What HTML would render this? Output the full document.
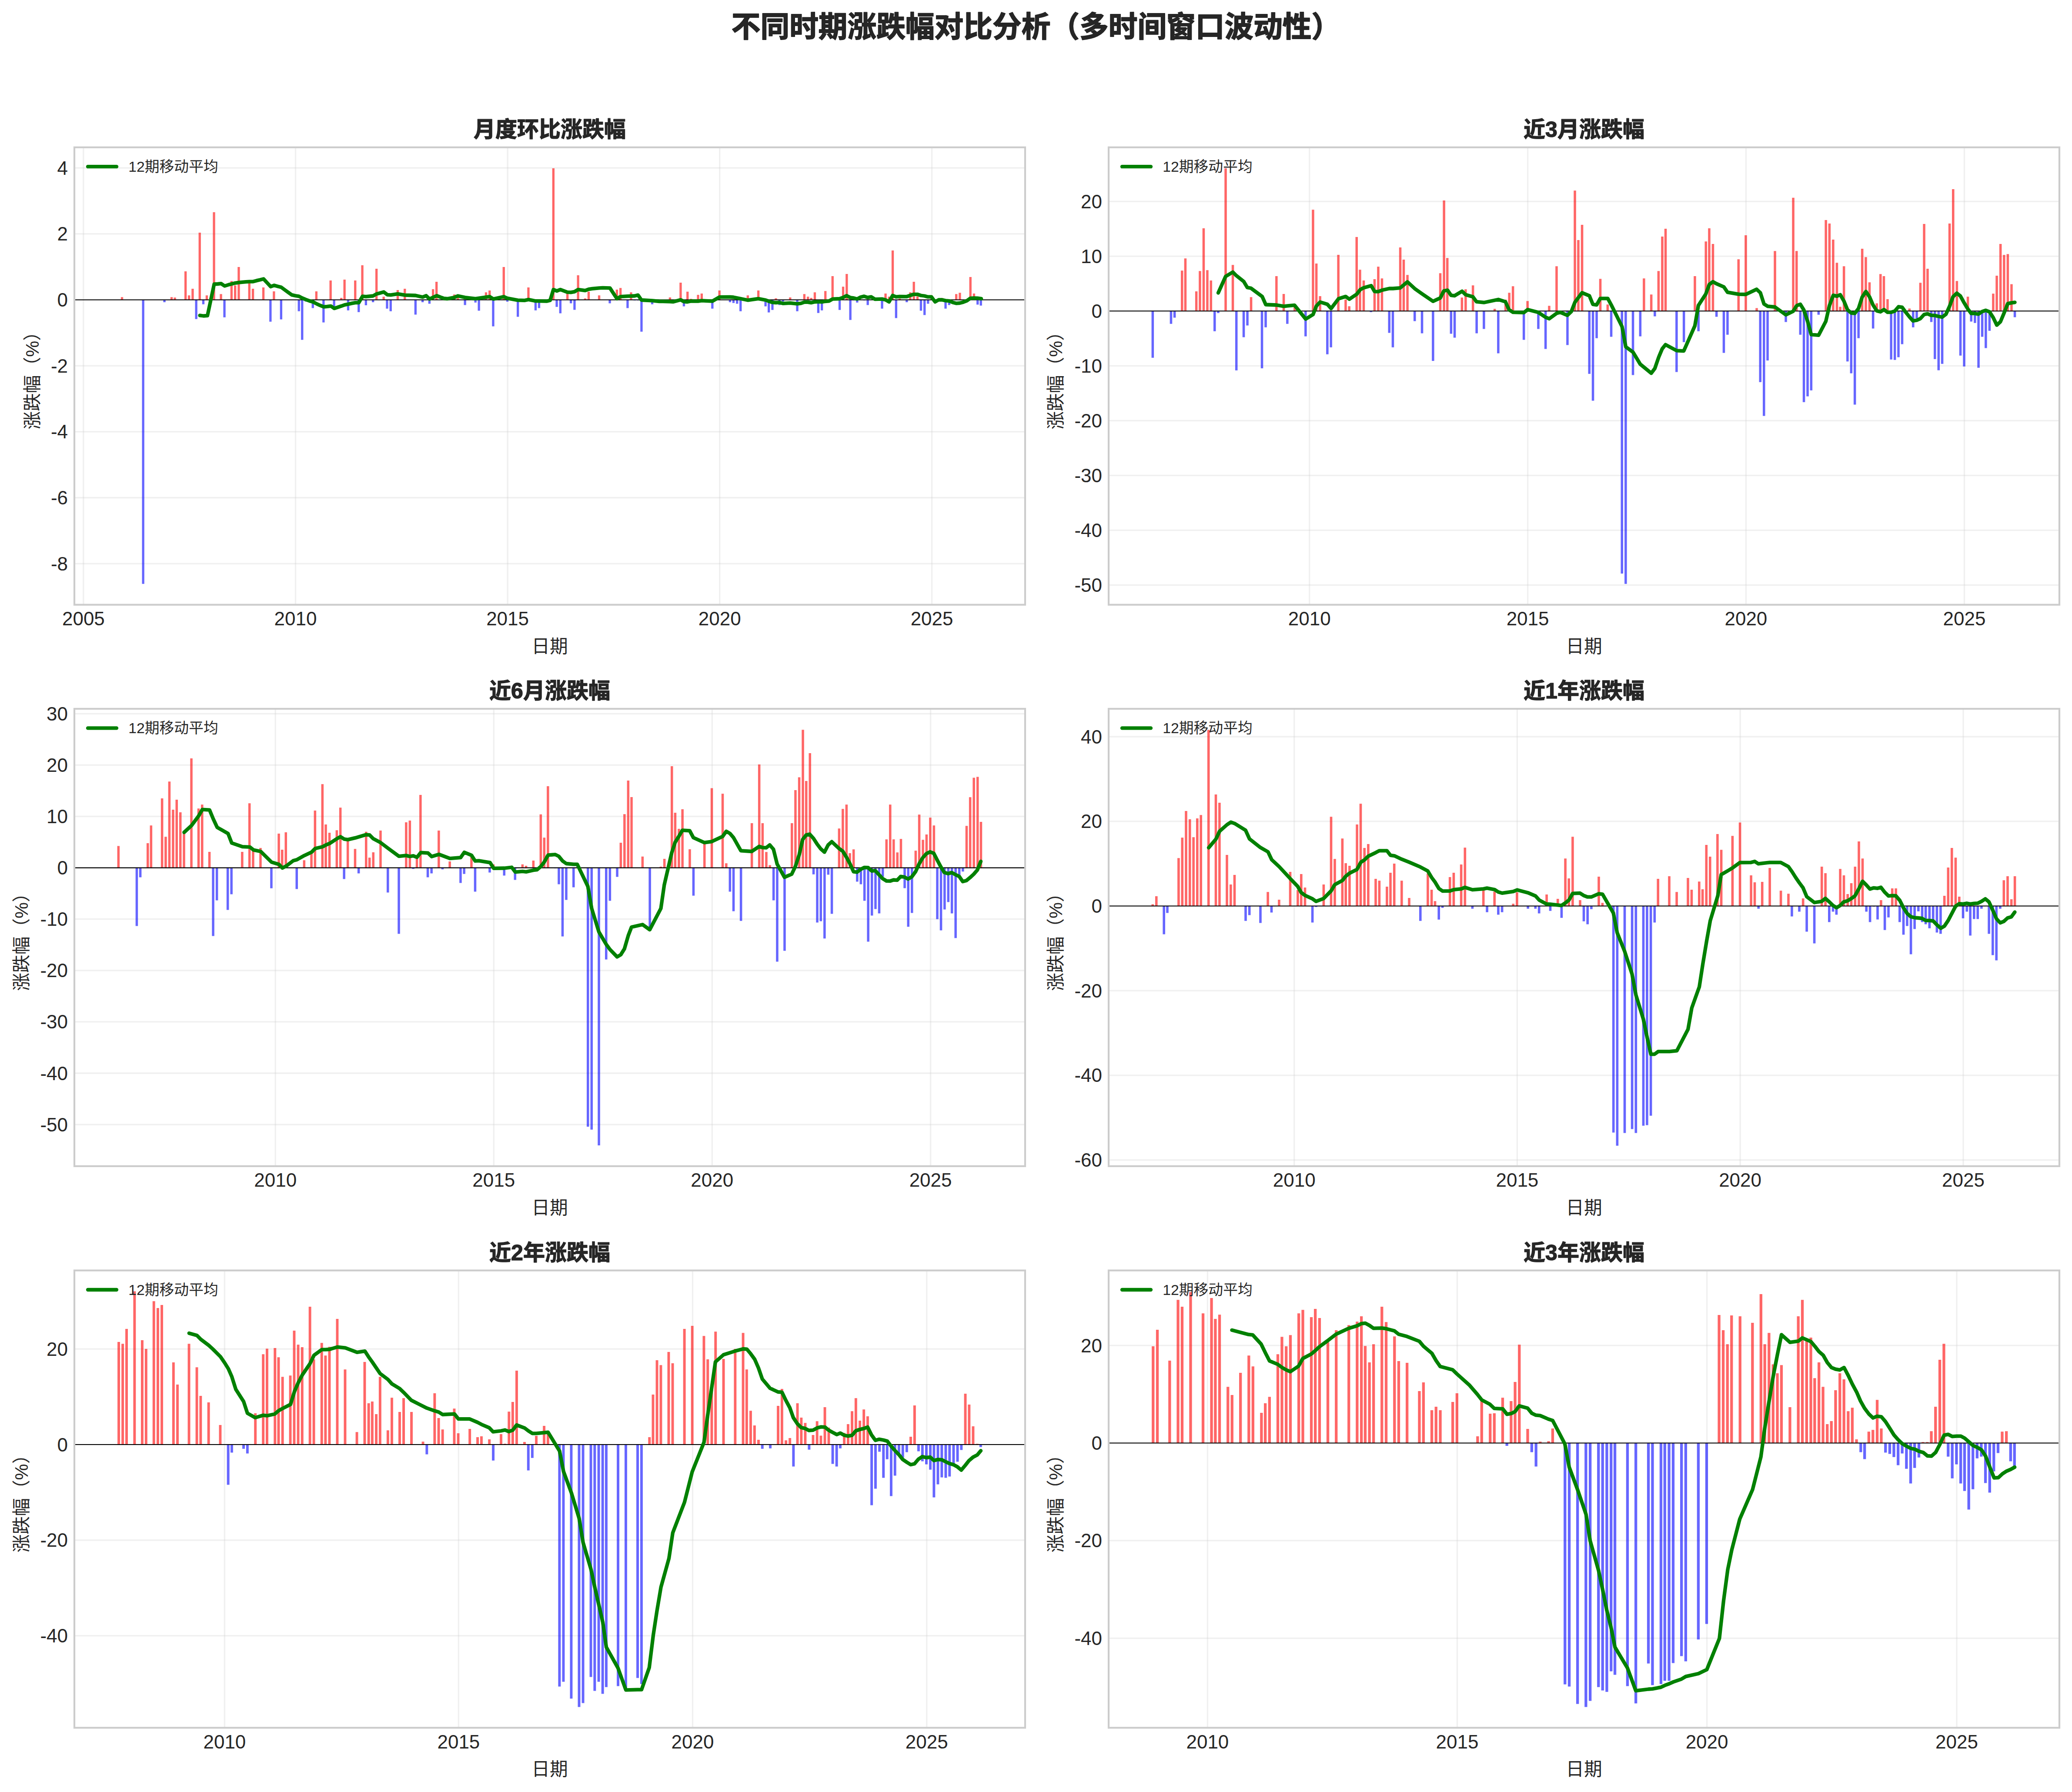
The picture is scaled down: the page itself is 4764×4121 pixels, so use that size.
<!DOCTYPE html>
<html lang="zh-CN">
<head>
<meta charset="utf-8">
<title>不同时期涨跌幅对比分析</title>
<style>
html,body{margin:0;padding:0;background:#fff}
body{width:4764px;height:4121px}
svg{display:block}
svg text{font-family:"Liberation Sans", "Noto Sans CJK SC", sans-serif;fill:#262626}
</style>
</head>
<body>

<svg width="4764" height="4121" viewBox="0 0 4764 4121" font-size="41.7">
<rect width="4764" height="4121" fill="#fff"/>
<text x="2382" y="85" text-anchor="middle" font-size="66.7" font-weight="bold" stroke="#262626" stroke-width="1.8" stroke-linejoin="round">不同时期涨跌幅对比分析（多时间窗口波动性）</text>
<g>
<path d="M191.9 338.8V1390.7M679.5 338.8V1390.7M1167.1 338.8V1390.7M1654.7 338.8V1390.7M2142.6 338.8V1390.7" stroke="#cccccc" stroke-opacity="0.3" stroke-width="3.3" fill="none"/>
<path d="M171 386.1H2357M171 537.8H2357M171 689.5H2357M171 841.2H2357M171 992.9H2357M171 1144.5H2357M171 1296.2H2357" stroke="#cccccc" stroke-opacity="0.3" stroke-width="3.3" fill="none"/>
<path d="M277.9 689.5h5.3v-6.3h-5.3zM391.9 689.5h5.3v-6.3h-5.3zM399.4 689.5h5.3v-5.2h-5.3zM424 689.5h5.3v-65.4h-5.3zM432 689.5h5.3v-10.3h-5.3zM440.3 689.5h5.3v-25.4h-5.3zM456.6 689.5h5.3v-154.4h-5.3zM472.8 689.5h5.3v-10.3h-5.3zM489.4 689.5h5.3v-201.4h-5.3zM505.4 689.5h5.3v-13.3h-5.3zM529.7 689.5h5.3v-43.3h-5.3zM538 689.5h5.3v-33.3h-5.3zM546.3 689.5h5.3v-75.4h-5.3zM570.6 689.5h5.3v-39.8h-5.3zM578.9 689.5h5.3v-25.4h-5.3zM602.9 689.5h5.3v-28.4h-5.3zM627.2 689.5h5.3v-19.5h-5.3zM724.7 689.5h5.3v-19.5h-5.3zM757.5 689.5h5.3v-44.6h-5.3zM782.1 689.5h5.3v-4.4h-5.3zM789.5 689.5h5.3v-46.5h-5.3zM814.1 689.5h5.3v-44.6h-5.3zM830.4 689.5h5.3v-79.5h-5.3zM863 689.5h5.3v-71.4h-5.3zM879.5 689.5h5.3v-7.3h-5.3zM911.8 689.5h5.3v-22.5h-5.3zM928.1 689.5h5.3v-25.4h-5.3zM993 689.5h5.3v-24.4h-5.3zM1001 689.5h5.3v-41.4h-5.3zM1041.9 689.5h5.3v-12.2h-5.3zM1050.2 689.5h5.3v-4.6h-5.3zM1114.8 689.5h5.3v-17.3h-5.3zM1123.1 689.5h5.3v-21.4h-5.3zM1155.6 689.5h5.3v-75.4h-5.3zM1212.3 689.5h5.3v-28.4h-5.3zM1269.7 689.5h5.3v-302.6h-5.3zM1302 689.5h5.3v-16.3h-5.3zM1326.5 689.5h5.3v-56.5h-5.3zM1342.8 689.5h5.3v-3.3h-5.3zM1350.8 689.5h5.3v-18.7h-5.3zM1374.9 689.5h5.3v-10.3h-5.3zM1415.7 689.5h5.3v-23.6h-5.3zM1424 689.5h5.3v-27.3h-5.3zM1448.3 689.5h5.3v-17.3h-5.3zM1537.8 689.5h5.3v-5.4h-5.3zM1562.3 689.5h5.3v-39.5h-5.3zM1578.1 689.5h5.3v-18.7h-5.3zM1586.1 689.5h5.3v-2.2h-5.3zM1602.4 689.5h5.3v-11.4h-5.3zM1610.7 689.5h5.3v-14.4h-5.3zM1651.5 689.5h5.3v-21.4h-5.3zM1716.7 689.5h5.3v-10.3h-5.3zM1741 689.5h5.3v-21.4h-5.3zM1781.3 689.5h5.3v-3.6h-5.3zM1814.1 689.5h5.3v-5.4h-5.3zM1846.7 689.5h5.3v-13.3h-5.3zM1855 689.5h5.3v-7.3h-5.3zM1862.5 689.5h5.3v-4.4h-5.3zM1870.8 689.5h5.3v-17.3h-5.3zM1895.1 689.5h5.3v-20.3h-5.3zM1911.6 689.5h5.3v-54.4h-5.3zM1935.9 689.5h5.3v-30.3h-5.3zM1944.2 689.5h5.3v-59.5h-5.3zM2009.1 689.5h5.3v-4.9h-5.3zM2033.4 689.5h5.3v-14.4h-5.3zM2041.7 689.5h5.3v-7.3h-5.3zM2049.9 689.5h5.3v-113.6h-5.3zM2066 689.5h5.3v-2.7h-5.3zM2090.3 689.5h5.3v-17.3h-5.3zM2098.5 689.5h5.3v-41.4h-5.3zM2106.8 689.5h5.3v-8.1h-5.3zM2139.4 689.5h5.3v-10h-5.3zM2163.4 689.5h5.3v-4.1h-5.3zM2196 689.5h5.3v-13.3h-5.3zM2204.3 689.5h5.3v-16.3h-5.3zM2228.6 689.5h5.3v-52.5h-5.3zM2236.8 689.5h5.3v-14.4h-5.3z" fill="#ff0000" fill-opacity="0.6"/>
<path d="M326.5 689.5h5.3v653.3h-5.3zM375.4 689.5h5.3v5.4h-5.3zM448.5 689.5h5.3v44.3h-5.3zM464.8 689.5h5.3v10.2h-5.3zM513.4 689.5h5.3v40.2h-5.3zM619.2 689.5h5.3v50.2h-5.3zM643.7 689.5h5.3v45.1h-5.3zM684.6 689.5h5.3v26.2h-5.3zM692.1 689.5h5.3v92.1h-5.3zM700.4 689.5h5.3v4h-5.3zM716.6 689.5h5.3v19.1h-5.3zM741.2 689.5h5.3v52.1h-5.3zM765.5 689.5h5.3v14.8h-5.3zM797.8 689.5h5.3v24.3h-5.3zM822.1 689.5h5.3v28.3h-5.3zM838.7 689.5h5.3v12.4h-5.3zM855 689.5h5.3v5.4h-5.3zM887.3 689.5h5.3v20.2h-5.3zM895.6 689.5h5.3v26.2h-5.3zM952.7 689.5h5.3v34h-5.3zM969 689.5h5.3v5.4h-5.3zM984.7 689.5h5.3v9.1h-5.3zM1066.5 689.5h5.3v12.1h-5.3zM1090.5 689.5h5.3v6.2h-5.3zM1098.5 689.5h5.3v25.1h-5.3zM1131.3 689.5h5.3v61h-5.3zM1163.9 689.5h5.3v4.3h-5.3zM1188 689.5h5.3v39.1h-5.3zM1228.8 689.5h5.3v24.3h-5.3zM1236.8 689.5h5.3v19.1h-5.3zM1277.4 689.5h5.3v16.2h-5.3zM1285.7 689.5h5.3v31h-5.3zM1310 689.5h5.3v8.1h-5.3zM1318.3 689.5h5.3v22.9h-5.3zM1399.4 689.5h5.3v8.1h-5.3zM1440.3 689.5h5.3v19.1h-5.3zM1456.6 689.5h5.3v1.3h-5.3zM1464.9 689.5h5.3v1.3h-5.3zM1472.3 689.5h5.3v73.2h-5.3zM1496.9 689.5h5.3v10.2h-5.3zM1569.8 689.5h5.3v15.1h-5.3zM1635.2 689.5h5.3v20.2h-5.3zM1675.8 689.5h5.3v5.4h-5.3zM1683.8 689.5h5.3v7.3h-5.3zM1692.1 689.5h5.3v9.1h-5.3zM1700.1 689.5h5.3v26.2h-5.3zM1757.5 689.5h5.3v15.1h-5.3zM1765 689.5h5.3v29.1h-5.3zM1773.3 689.5h5.3v23.2h-5.3zM1789.6 689.5h5.3v12.1h-5.3zM1797.6 689.5h5.3v4h-5.3zM1830.4 689.5h5.3v26.2h-5.3zM1878.8 689.5h5.3v30.2h-5.3zM1887 689.5h5.3v24.3h-5.3zM1927.9 689.5h5.3v23.2h-5.3zM1952.5 689.5h5.3v46.2h-5.3zM1959.9 689.5h5.3v1.3h-5.3zM1968.2 689.5h5.3v6.2h-5.3zM1984.5 689.5h5.3v1.3h-5.3zM1992.5 689.5h5.3v12.1h-5.3zM2025.4 689.5h5.3v20.2h-5.3zM2057.7 689.5h5.3v42.1h-5.3zM2082.2 689.5h5.3v5.4h-5.3zM2114.8 689.5h5.3v25.1h-5.3zM2123.1 689.5h5.3v35.1h-5.3zM2131.1 689.5h5.3v9.1h-5.3zM2171.4 689.5h5.3v20.2h-5.3zM2179.7 689.5h5.3v12.1h-5.3zM2245.1 689.5h5.3v11h-5.3zM2252.6 689.5h5.3v13.2h-5.3z" fill="#0000ff" fill-opacity="0.6"/>
<path d="M171 689.5H2357" stroke="#000" stroke-width="2.1"/>
<path d="M459.5 725.4L467.8 726.5L477 725.9L492.4 653.5L500.5 653L508.4 652.2L516.5 657.6L524.6 655.1L532.4 653L541.1 650.8L549.5 649.7L557.3 648.9L565.4 648.1L573.5 647.6L581.9 647.6L589.7 645.4L597.8 643.5L605.9 641.4L614.1 650.3L622.4 659.2L630.5 656.2L638.4 658.4L646.5 660.5L654.6 666.5L662.7 672.4L670.8 678.1L678.9 680L687.3 681.4L694.9 685.4L703.2 688.9L711.4 691.9L719.5 694.3L727.6 698.4L735.7 702.2L744.3 705.7L752.4 704.9L760.5 703.8L768.6 709.2L776.8 706.5L784.9 703.8L792.4 701.1L800.5 699.5L808.6 697.6L816.8 696.2L824.9 696.2L833.5 681.4L841.4 682.2L857.8 680.5L865.9 675.9L882.4 671.4L890.5 677.8L898.4 678.4L914.3 675.9L930.8 678.6L955.4 679.5L971.9 683.2L979.7 680L987.6 687.6L1004.1 680L1020.3 686.2L1028.4 687L1044.3 684.1L1052.7 680.5L1069.5 684.1L1093.2 686.8L1125.9 682.2L1134.3 687.6L1158.4 682.2L1166.5 685.9L1190.5 690.3L1206.8 690.8L1215.1 688.9L1231.4 692.2L1256.8 692.7L1264.9 690.8L1272.4 665.9L1280.3 669.2L1288.4 665.9L1304.3 671.9L1312.4 672.4L1320.8 670.8L1329.2 665.9L1345.4 668.1L1353.5 665.1L1361.6 663.8L1377.6 662.4L1385.9 661.9L1402.4 662.4L1418.4 686.8L1426.5 682.2L1443 681.1L1459.2 680.5L1467 678.6L1474.9 690L1499.5 691.4L1515.7 693L1540.3 693.5L1548.1 694.1L1564.9 689.5L1572.4 693.5L1580.3 694.3L1588.4 692.4L1604.9 692.7L1613.2 691.4L1637.8 692.7L1654.3 683.2L1678.4 683L1686.2 683.5L1702.4 686.8L1719.2 690.3L1743.5 686.8L1760.3 690L1767.3 692.7L1775.7 695.4L1783.8 696.2L1792.2 695.7L1800 697.8L1816.5 696.8L1833 698.6L1841.4 697.6L1849.5 694.9L1857.3 694.9L1864.9 696.2L1873.2 694.3L1881.4 693.8L1889.5 694.3L1897.3 693L1905.9 692.4L1914.3 687.6L1930.5 687L1938.4 684.1L1946.5 680L1954.9 684.3L1963 685.4L1970.5 687.6L1978.9 683.2L1986.8 681.4L1994.9 684.1L2003.2 682.7L2011.6 688.1L2027.8 687.6L2035.9 689.5L2044.1 694.1L2052.4 679.5L2060.3 682.7L2068.4 681.9L2084.3 682.2L2092.4 679.5L2100.8 676.8L2109.2 676.8L2117.3 679.5L2125.4 680.5L2133.5 682.7L2141.6 682.7L2150 694.1L2158.1 689.5L2165.9 689.5L2174.1 691.4L2182.4 692.2L2190.5 695.4L2198.4 697.6L2206.5 697L2214.6 694.9L2223 691.6L2231.1 685.9L2239.2 685.4L2247.3 685.7L2256.2 686.8" stroke="#008000" stroke-width="8.3" fill="none" stroke-linejoin="round" stroke-linecap="round"/>
<rect x="171" y="338.8" width="2186" height="1051.9" fill="none" stroke="#cccccc" stroke-width="4.2"/>
<path d="M202 383.2h66" stroke="#008000" stroke-width="8.3" stroke-linecap="round"/>
<text x="295.2" y="395.2" font-size="33.8">12期移动平均</text>
<text x="191.9" y="1438.2" text-anchor="middle" font-size="44">2005</text>
<text x="679.5" y="1438.2" text-anchor="middle" font-size="44">2010</text>
<text x="1167.1" y="1438.2" text-anchor="middle" font-size="44">2015</text>
<text x="1654.7" y="1438.2" text-anchor="middle" font-size="44">2020</text>
<text x="2142.6" y="1438.2" text-anchor="middle" font-size="44">2025</text>
<text x="156" y="401.6" text-anchor="end" font-size="44">4</text>
<text x="156" y="553.3" text-anchor="end" font-size="44">2</text>
<text x="156" y="705" text-anchor="end" font-size="44">0</text>
<text x="156" y="856.7" text-anchor="end" font-size="44">-2</text>
<text x="156" y="1008.4" text-anchor="end" font-size="44">-4</text>
<text x="156" y="1160" text-anchor="end" font-size="44">-6</text>
<text x="156" y="1311.7" text-anchor="end" font-size="44">-8</text>
<text x="1264" y="314.8" text-anchor="middle" font-size="50" font-weight="bold" stroke="#262626" stroke-width="1.4" stroke-linejoin="round">月度环比涨跌幅</text>
<text x="1264" y="1500.7" text-anchor="middle">日期</text>
<text transform="translate(89 864.8) rotate(-90)" text-anchor="middle">涨跌幅（%）</text>
</g>
<g>
<path d="M3010.8 338.8V1390.7M3512.6 338.8V1390.7M4014.4 338.8V1390.7M4516.5 338.8V1390.7" stroke="#cccccc" stroke-opacity="0.3" stroke-width="3.3" fill="none"/>
<path d="M2549 463.3H4735M2549 589.3H4735M2549 715.3H4735M2549 841.3H4735M2549 967.3H4735M2549 1093.3H4735M2549 1219.3H4735M2549 1345.3H4735" stroke="#cccccc" stroke-opacity="0.3" stroke-width="3.3" fill="none"/>
<path d="M2715 715.3h5.5v-93h-5.5zM2722.7 715.3h5.5v-121h-5.5zM2747.9 715.3h5.5v-45.2h-5.5zM2756.2 715.3h5.5v-92h-5.5zM2764.7 715.3h5.5v-190.2h-5.5zM2773.2 715.3h5.5v-94h-5.5zM2781.5 715.3h5.5v-70.2h-5.5zM2815.3 715.3h5.5v-328.3h-5.5zM2831.8 715.3h5.5v-106.1h-5.5zM2873.8 715.3h5.5v-32.1h-5.5zM2932.1 715.3h5.5v-80.2h-5.5zM2948.8 715.3h5.5v-39.4h-5.5zM2974.1 715.3h5.5v-9.3h-5.5zM3016.2 715.3h5.5v-233.1h-5.5zM3023.9 715.3h5.5v-109.3h-5.5zM3032.4 715.3h5.5v-34.2h-5.5zM3074.4 715.3h5.5v-129.3h-5.5zM3091.2 715.3h5.5v-26.6h-5.5zM3099.4 715.3h5.5v-11h-5.5zM3116.5 715.3h5.5v-170.2h-5.5zM3124.2 715.3h5.5v-95.1h-5.5zM3132.7 715.3h5.5v-70.2h-5.5zM3157.7 715.3h5.5v-73.3h-5.5zM3166.2 715.3h5.5v-102h-5.5zM3174.7 715.3h5.5v-75h-5.5zM3216.8 715.3h5.5v-146.3h-5.5zM3224.7 715.3h5.5v-118.3h-5.5zM3233.3 715.3h5.5v-83h-5.5zM3308.8 715.3h5.5v-87.1h-5.5zM3317.4 715.3h5.5v-254.3h-5.5zM3325 715.3h5.5v-122.1h-5.5zM3358.6 715.3h5.5v-31.1h-5.5zM3367.1 715.3h5.5v-50.1h-5.5zM3383.9 715.3h5.5v-59.1h-5.5zM3433.9 715.3h5.5v-5.1h-5.5zM3458.9 715.3h5.5v-26.2h-5.5zM3467.4 715.3h5.5v-42.1h-5.5zM3475.9 715.3h5.5v-57h-5.5zM3509.4 715.3h5.5v-23.1h-5.5zM3559.2 715.3h5.5v-12h-5.5zM3576.2 715.3h5.5v-103h-5.5zM3618.3 715.3h5.5v-277.1h-5.5zM3626.2 715.3h5.5v-163.2h-5.5zM3634.8 715.3h5.5v-198.2h-5.5zM3676.8 715.3h5.5v-74h-5.5zM3693.6 715.3h5.5v-15.1h-5.5zM3777.1 715.3h5.5v-75h-5.5zM3793.9 715.3h5.5v-38h-5.5zM3810.6 715.3h5.5v-92h-5.5zM3819.2 715.3h5.5v-171.2h-5.5zM3826.8 715.3h5.5v-189.2h-5.5zM3894.2 715.3h5.5v-80.2h-5.5zM3919.5 715.3h5.5v-160.1h-5.5zM3927.2 715.3h5.5v-190.2h-5.5zM3935.7 715.3h5.5v-154.2h-5.5zM3994.5 715.3h5.5v-119h-5.5zM4011.2 715.3h5.5v-174.3h-5.5zM4036.3 715.3h5.5v-6.8h-5.5zM4078.3 715.3h5.5v-138h-5.5zM4120.3 715.3h5.5v-260.5h-5.5zM4128 715.3h5.5v-138h-5.5zM4195.4 715.3h5.5v-209.3h-5.5zM4203.6 715.3h5.5v-201.3h-5.5zM4212.1 715.3h5.5v-164.3h-5.5zM4220.7 715.3h5.5v-111h-5.5zM4228.3 715.3h5.5v-9.9h-5.5zM4236.9 715.3h5.5v-103h-5.5zM4278.9 715.3h5.5v-143.2h-5.5zM4287.2 715.3h5.5v-124.1h-5.5zM4295.7 715.3h5.5v-66h-5.5zM4312.4 715.3h5.5v-17.9h-5.5zM4321 715.3h5.5v-85h-5.5zM4328.7 715.3h5.5v-80.2h-5.5zM4337.2 715.3h5.5v-27.3h-5.5zM4387.5 715.3h5.5v-5.8h-5.5zM4412.7 715.3h5.5v-65h-5.5zM4421.3 715.3h5.5v-200.3h-5.5zM4429.2 715.3h5.5v-97.2h-5.5zM4479.8 715.3h5.5v-201.3h-5.5zM4488 715.3h5.5v-280.2h-5.5zM4496.6 715.3h5.5v-69.1h-5.5zM4521.8 715.3h5.5v-33.1h-5.5zM4580.1 715.3h5.5v-40.1h-5.5zM4588.3 715.3h5.5v-81.2h-5.5zM4596.9 715.3h5.5v-154.2h-5.5zM4605.1 715.3h5.5v-129h-5.5zM4613.6 715.3h5.5v-131.1h-5.5zM4622.2 715.3h5.5v-61.9h-5.5z" fill="#ff0000" fill-opacity="0.6"/>
<path d="M2647.6 715.3h5.5v107.4h-5.5zM2689.7 715.3h5.5v29.5h-5.5zM2697.9 715.3h5.5v15.3h-5.5zM2790 715.3h5.5v46.5h-5.5zM2798.2 715.3h5.5v4.6h-5.5zM2840 715.3h5.5v136.4h-5.5zM2856.8 715.3h5.5v60.3h-5.5zM2865.3 715.3h5.5v33.3h-5.5zM2898.8 715.3h5.5v131.6h-5.5zM2907.3 715.3h5.5v37.5h-5.5zM2957.1 715.3h5.5v29.5h-5.5zM2999.1 715.3h5.5v58.2h-5.5zM3049.1 715.3h5.5v99.4h-5.5zM3057.4 715.3h5.5v83.5h-5.5zM3149.4 715.3h5.5v2.5h-5.5zM3191.5 715.3h5.5v50.3h-5.5zM3199.7 715.3h5.5v83.5h-5.5zM3250 715.3h5.5v23.3h-5.5zM3266.8 715.3h5.5v51.3h-5.5zM3292.1 715.3h5.5v114.6h-5.5zM3333.6 715.3h5.5v52.3h-5.5zM3341.8 715.3h5.5v61.3h-5.5zM3392.4 715.3h5.5v51.3h-5.5zM3409.1 715.3h5.5v41.3h-5.5zM3442.1 715.3h5.5v97.3h-5.5zM3500.9 715.3h5.5v66.2h-5.5zM3534.2 715.3h5.5v41.3h-5.5zM3550.9 715.3h5.5v87.3h-5.5zM3601.2 715.3h5.5v78.3h-5.5zM3651.5 715.3h5.5v144.4h-5.5zM3659.8 715.3h5.5v206.3h-5.5zM3668.3 715.3h5.5v62.4h-5.5zM3701.8 715.3h5.5v59.3h-5.5zM3726.5 715.3h5.5v603.6h-5.5zM3735.1 715.3h5.5v627.5h-5.5zM3751.8 715.3h5.5v147.2h-5.5zM3768.6 715.3h5.5v58.2h-5.5zM3802.1 715.3h5.5v12.2h-5.5zM3852.1 715.3h5.5v140.2h-5.5zM3868.9 715.3h5.5v71.4h-5.5zM3902.4 715.3h5.5v46.5h-5.5zM3943.9 715.3h5.5v13.2h-5.5zM3960.7 715.3h5.5v96.3h-5.5zM3969.2 715.3h5.5v54.4h-5.5zM4044.5 715.3h5.5v163.4h-5.5zM4053 715.3h5.5v241.3h-5.5zM4061.3 715.3h5.5v113.6h-5.5zM4103.3 715.3h5.5v25.3h-5.5zM4136.6 715.3h5.5v54.4h-5.5zM4144.8 715.3h5.5v209.4h-5.5zM4153.3 715.3h5.5v196.3h-5.5zM4161.6 715.3h5.5v182.5h-5.5zM4178.6 715.3h5.5v8.4h-5.5zM4245.1 715.3h5.5v116h-5.5zM4253.6 715.3h5.5v143.3h-5.5zM4261.9 715.3h5.5v215.3h-5.5zM4270.4 715.3h5.5v62.4h-5.5zM4303.9 715.3h5.5v40.2h-5.5zM4345.4 715.3h5.5v111.5h-5.5zM4353.9 715.3h5.5v112.5h-5.5zM4362.2 715.3h5.5v106.3h-5.5zM4370.7 715.3h5.5v76.2h-5.5zM4396 715.3h5.5v37.5h-5.5zM4404.2 715.3h5.5v16.7h-5.5zM4437.8 715.3h5.5v25.3h-5.5zM4446 715.3h5.5v110.5h-5.5zM4454.5 715.3h5.5v136.1h-5.5zM4462.8 715.3h5.5v121.5h-5.5zM4504.8 715.3h5.5v102.5h-5.5zM4513.3 715.3h5.5v127.4h-5.5zM4529.5 715.3h5.5v24.3h-5.5zM4538.1 715.3h5.5v27.4h-5.5zM4546.3 715.3h5.5v130.5h-5.5zM4554.8 715.3h5.5v59.3h-5.5zM4563.1 715.3h5.5v85.2h-5.5zM4571.6 715.3h5.5v45.4h-5.5zM4629.8 715.3h5.5v14.3h-5.5z" fill="#0000ff" fill-opacity="0.6"/>
<path d="M2549 715.3H4735" stroke="#000" stroke-width="2.1"/>
<path d="M2801 673.5L2817.9 635.8L2834.5 625.8L2842.9 634.1L2859.5 647.2L2867.8 661.1L2876.4 662.8L2902 681.8L2910.3 700.5L2934.9 701.5L2951.9 704.3L2960.2 703.3L2976.4 701.9L3002 733.7L3019 723.3L3026.9 703.3L3035.3 694.6L3051.9 699.8L3060.5 709.5L3077.5 687L3094.1 681.8L3102.4 688L3119.3 676.6L3127.3 666.2L3135.6 661.7L3152.6 656.9L3160.5 670.4L3168.8 670.7L3177.5 667.3L3194.4 663.5L3202.7 663.5L3219.3 662.1L3236 648.3L3252.9 663.8L3269.5 675.6L3294.8 692.9L3311.4 685.3L3319.7 669L3328.3 667.3L3336.3 679.1L3344.3 680.1L3361.6 669.7L3369.9 677.7L3386.5 682.5L3394.8 693.9L3411.8 695.7L3445 688.7L3461.3 693.9L3469.6 712.3L3478.9 718.2L3503.8 718.8L3512.5 711.9L3536.7 718.2L3553.6 729.6L3562 733L3578.9 720.6L3587.2 718.2L3603.8 725.1L3612.8 716.4L3621.1 695L3637.4 673.2L3654.3 680.1L3662.3 699.8L3671 701.2L3679.3 686.3L3696.6 686.3L3704.5 700.9L3729.4 751L3738.1 797.7L3754.7 809.9L3771.3 837.5L3796.6 858.3L3804.9 847.2L3813.5 822L3821.8 802.2L3829.4 792.6L3855.1 806.4L3871.3 807.1L3896.9 749.3L3904.9 702.6L3921.8 676.6L3930.1 654.1L3938.4 647.9L3946.4 652.4L3963.4 659.7L3972 672.1L3997.6 676.6L4013.9 677L4038.8 665.2L4047.5 673.2L4055.8 699.1L4064.1 704.3L4081 706L4106 724L4122.9 715.7L4131.2 702.6L4139.5 699.8L4147.5 713L4156.1 738.9L4164.4 769.4L4181.4 770.8L4198 738.9L4206.3 702.6L4215 679.1L4223.6 681.1L4231.2 677.7L4239.5 692.2L4247.8 712.3L4256.5 719.9L4264.4 720.6L4273.1 709.5L4281.4 683.5L4290.1 670.4L4298.4 682.5L4306.3 700.9L4315 714.7L4323.6 717.1L4331.6 711.9L4339.9 718.2L4347.8 718.2L4356.5 715.4L4365.1 705.4L4373.5 706.7L4381.8 718.2L4390.1 728.5L4398.4 737.9L4407 736.5L4415.3 732.7L4424 723.3L4431.9 721.6L4440.2 725.1L4448.5 725.4L4456.8 727.5L4465.5 729.2L4474.1 722.7L4482.5 704.3L4490.4 682.5L4499.1 674.2L4507.4 680.8L4516 696.4L4524.3 710.2L4532.3 720.9L4540.6 720.9L4548.9 722.3L4557.5 716.4L4565.5 713.7L4574.5 717.1L4582.8 730.3L4591.1 747.6L4599.4 740L4608.1 719.2L4616.4 698.1L4625 696.4L4632.6 695.3" stroke="#008000" stroke-width="8.3" fill="none" stroke-linejoin="round" stroke-linecap="round"/>
<rect x="2549" y="338.8" width="2186" height="1051.9" fill="none" stroke="#cccccc" stroke-width="4.2"/>
<path d="M2580 383.2h66" stroke="#008000" stroke-width="8.3" stroke-linecap="round"/>
<text x="2673.2" y="395.2" font-size="33.8">12期移动平均</text>
<text x="3010.8" y="1438.2" text-anchor="middle" font-size="44">2010</text>
<text x="3512.6" y="1438.2" text-anchor="middle" font-size="44">2015</text>
<text x="4014.4" y="1438.2" text-anchor="middle" font-size="44">2020</text>
<text x="4516.5" y="1438.2" text-anchor="middle" font-size="44">2025</text>
<text x="2534" y="478.8" text-anchor="end" font-size="44">20</text>
<text x="2534" y="604.8" text-anchor="end" font-size="44">10</text>
<text x="2534" y="730.8" text-anchor="end" font-size="44">0</text>
<text x="2534" y="856.8" text-anchor="end" font-size="44">-10</text>
<text x="2534" y="982.8" text-anchor="end" font-size="44">-20</text>
<text x="2534" y="1108.8" text-anchor="end" font-size="44">-30</text>
<text x="2534" y="1234.8" text-anchor="end" font-size="44">-40</text>
<text x="2534" y="1360.8" text-anchor="end" font-size="44">-50</text>
<text x="3642" y="314.8" text-anchor="middle" font-size="50" font-weight="bold" stroke="#262626" stroke-width="1.4" stroke-linejoin="round">近3月涨跌幅</text>
<text x="3642" y="1500.7" text-anchor="middle">日期</text>
<text transform="translate(2442.3 864.8) rotate(-90)" text-anchor="middle">涨跌幅（%）</text>
</g>
<g>
<path d="M633.2 1630V2681.8M1135.3 1630V2681.8M1637.3 1630V2681.8M2139.6 1630V2681.8" stroke="#cccccc" stroke-opacity="0.3" stroke-width="3.3" fill="none"/>
<path d="M171 1641.3H2357M171 1759.4H2357M171 1877.5H2357M171 1995.6H2357M171 2113.7H2357M171 2231.8H2357M171 2349.9H2357M171 2468H2357M171 2586.1H2357" stroke="#cccccc" stroke-opacity="0.3" stroke-width="3.3" fill="none"/>
<path d="M269.6 1995.6h5.5v-50.1h-5.5zM337 1995.6h5.5v-56.5h-5.5zM344.6 1995.6h5.5v-97.4h-5.5zM369.9 1995.6h5.5v-159.6h-5.5zM378.2 1995.6h5.5v-71.4h-5.5zM386.7 1995.6h5.5v-198.4h-5.5zM395.2 1995.6h5.5v-133.6h-5.5zM403.5 1995.6h5.5v-156.5h-5.5zM412 1995.6h5.5v-127.5h-5.5zM420.3 1995.6h5.5v-78.8h-5.5zM437.3 1995.6h5.5v-251.5h-5.5zM453.8 1995.6h5.5v-136.3h-5.5zM462 1995.6h5.5v-145.4h-5.5zM478.8 1995.6h5.5v-36.6h-5.5zM554.1 1995.6h5.5v-36.6h-5.5zM570.9 1995.6h5.5v-148.4h-5.5zM579.2 1995.6h5.5v-40h-5.5zM596.2 1995.6h5.5v-45.7h-5.5zM638.3 1995.6h5.5v-78.5h-5.5zM646 1995.6h5.5v-41.7h-5.5zM654.5 1995.6h5.5v-81.5h-5.5zM696.6 1995.6h5.5v-17.4h-5.5zM713.3 1995.6h5.5v-33.2h-5.5zM721.6 1995.6h5.5v-131.5h-5.5zM738.6 1995.6h5.5v-192.4h-5.5zM746.3 1995.6h5.5v-99.5h-5.5zM754.8 1995.6h5.5v-80.5h-5.5zM771.6 1995.6h5.5v-86.3h-5.5zM779.9 1995.6h5.5v-138.3h-5.5zM796.9 1995.6h5.5v-63.6h-5.5zM813.7 1995.6h5.5v-43.4h-5.5zM839 1995.6h5.5v-82.9h-5.5zM846.9 1995.6h5.5v-23.4h-5.5zM855.5 1995.6h5.5v-35.6h-5.5zM872.2 1995.6h5.5v-85.6h-5.5zM931.1 1995.6h5.5v-104.5h-5.5zM939.6 1995.6h5.5v-108.6h-5.5zM955.8 1995.6h5.5v-23.1h-5.5zM964.1 1995.6h5.5v-167.7h-5.5zM1006.1 1995.6h5.5v-85.6h-5.5zM1031.4 1995.6h5.5v-14.7h-5.5zM1081.2 1995.6h5.5v-28.2h-5.5zM1131.8 1995.6h5.5v-7.9h-5.5zM1198.6 1995.6h5.5v-7.9h-5.5zM1206.8 1995.6h5.5v-4.5h-5.5zM1223.6 1995.6h5.5v-16.7h-5.5zM1240.6 1995.6h5.5v-122.8h-5.5zM1248.6 1995.6h5.5v-69.4h-5.5zM1257.1 1995.6h5.5v-187.6h-5.5zM1424.6 1995.6h5.5v-57.6h-5.5zM1433.1 1995.6h5.5v-123.4h-5.5zM1441.6 1995.6h5.5v-200.5h-5.5zM1449.3 1995.6h5.5v-162.6h-5.5zM1474.6 1995.6h5.5v-25.8h-5.5zM1516.7 1995.6h5.5v-2.5h-5.5zM1524.9 1995.6h5.5v-20.7h-5.5zM1542 1995.6h5.5v-233.6h-5.5zM1549.7 1995.6h5.5v-126.5h-5.5zM1558.2 1995.6h5.5v-89.7h-5.5zM1566.4 1995.6h5.5v-134.6h-5.5zM1583.2 1995.6h5.5v-42.7h-5.5zM1617 1995.6h5.5v-57.9h-5.5zM1633.8 1995.6h5.5v-183.2h-5.5zM1658.8 1995.6h5.5v-170.4h-5.5zM1667.1 1995.6h5.5v-10.3h-5.5zM1725.9 1995.6h5.5v-102.5h-5.5zM1742.9 1995.6h5.5v-237.6h-5.5zM1750.6 1995.6h5.5v-102.5h-5.5zM1759.2 1995.6h5.5v-36.3h-5.5zM1767.4 1995.6h5.5v-6.2h-5.5zM1818 1995.6h5.5v-102.5h-5.5zM1826.2 1995.6h5.5v-178.5h-5.5zM1834.8 1995.6h5.5v-208.2h-5.5zM1843.3 1995.6h5.5v-317.4h-5.5zM1851 1995.6h5.5v-199.5h-5.5zM1859.5 1995.6h5.5v-263.6h-5.5zM1926.6 1995.6h5.5v-90.3h-5.5zM1935.1 1995.6h5.5v-135.3h-5.5zM1943.6 1995.6h5.5v-145.4h-5.5zM1951.3 1995.6h5.5v-33.6h-5.5zM1959.9 1995.6h5.5v-42.4h-5.5zM2035.5 1995.6h5.5v-65.3h-5.5zM2044 1995.6h5.5v-145.4h-5.5zM2052 1995.6h5.5v-65.3h-5.5zM2060.5 1995.6h5.5v-35.3h-5.5zM2068.7 1995.6h5.5v-66.3h-5.5zM2102.6 1995.6h5.5v-39.3h-5.5zM2110.8 1995.6h5.5v-122.4h-5.5zM2119.3 1995.6h5.5v-64.3h-5.5zM2127.6 1995.6h5.5v-76.5h-5.5zM2136.1 1995.6h5.5v-115.3h-5.5zM2144.6 1995.6h5.5v-97.4h-5.5zM2219.7 1995.6h5.5v-96.4h-5.5zM2227.9 1995.6h5.5v-162.3h-5.5zM2236.4 1995.6h5.5v-207.2h-5.5zM2245 1995.6h5.5v-209.2h-5.5zM2252.7 1995.6h5.5v-105.5h-5.5z" fill="#ff0000" fill-opacity="0.6"/>
<path d="M311.7 1995.6h5.5v134h-5.5zM319.9 1995.6h5.5v21.8h-5.5zM487.3 1995.6h5.5v157h-5.5zM495.9 1995.6h5.5v74.9h-5.5zM520.9 1995.6h5.5v96.8h-5.5zM529.4 1995.6h5.5v61h-5.5zM621.2 1995.6h5.5v47.2h-5.5zM679.5 1995.6h5.5v48.9h-5.5zM788.4 1995.6h5.5v25.9h-5.5zM821.9 1995.6h5.5v13h-5.5zM889 1995.6h5.5v57h-5.5zM914.3 1995.6h5.5v151.9h-5.5zM947.3 1995.6h5.5v2.6h-5.5zM980.8 1995.6h5.5v21.8h-5.5zM989.4 1995.6h5.5v13h-5.5zM1014.7 1995.6h5.5v3.6h-5.5zM1056.2 1995.6h5.5v35h-5.5zM1064.4 1995.6h5.5v14.1h-5.5zM1089.7 1995.6h5.5v54.9h-5.5zM1123.2 1995.6h5.5v11h-5.5zM1156.5 1995.6h5.5v17.8h-5.5zM1181.5 1995.6h5.5v27.9h-5.5zM1273.9 1995.6h5.5v1.2h-5.5zM1282.2 1995.6h5.5v38h-5.5zM1290.7 1995.6h5.5v158h-5.5zM1299.2 1995.6h5.5v73.9h-5.5zM1316 1995.6h5.5v44.8h-5.5zM1349 1995.6h5.5v595.5h-5.5zM1357.5 1995.6h5.5v602.2h-5.5zM1374.3 1995.6h5.5v638.4h-5.5zM1391 1995.6h5.5v211h-5.5zM1399.6 1995.6h5.5v75.9h-5.5zM1416.3 1995.6h5.5v20.8h-5.5zM1491.4 1995.6h5.5v142.1h-5.5zM1591.7 1995.6h5.5v64.1h-5.5zM1675.6 1995.6h5.5v54.9h-5.5zM1683.8 1995.6h5.5v99.9h-5.5zM1700.9 1995.6h5.5v122.2h-5.5zM1775.9 1995.6h5.5v74.9h-5.5zM1784.2 1995.6h5.5v215.8h-5.5zM1801.2 1995.6h5.5v190.8h-5.5zM1867.8 1995.6h5.5v15.1h-5.5zM1876.3 1995.6h5.5v125.9h-5.5zM1884.5 1995.6h5.5v122.8h-5.5zM1893.1 1995.6h5.5v162.7h-5.5zM1901.6 1995.6h5.5v15.8h-5.5zM1909.8 1995.6h5.5v106h-5.5zM1968.1 1995.6h5.5v32h-5.5zM1976.6 1995.6h5.5v38h-5.5zM1984.9 1995.6h5.5v75.9h-5.5zM1993.4 1995.6h5.5v169.8h-5.5zM2001.9 1995.6h5.5v110h-5.5zM2010.2 1995.6h5.5v94.8h-5.5zM2018.7 1995.6h5.5v104.9h-5.5zM2026.9 1995.6h5.5v20.8h-5.5zM2077.3 1995.6h5.5v46.8h-5.5zM2085.5 1995.6h5.5v135.7h-5.5zM2094 1995.6h5.5v103.9h-5.5zM2152.3 1995.6h5.5v118.1h-5.5zM2160.8 1995.6h5.5v143.8h-5.5zM2169.1 1995.6h5.5v95.8h-5.5zM2177.6 1995.6h5.5v78.9h-5.5zM2185.9 1995.6h5.5v104.9h-5.5zM2194.4 1995.6h5.5v161.7h-5.5zM2202.9 1995.6h5.5v22.5h-5.5zM2211.1 1995.6h5.5v8.7h-5.5z" fill="#0000ff" fill-opacity="0.6"/>
<path d="M171 1995.6H2357" stroke="#000" stroke-width="2.1"/>
<path d="M423.3 1914.1L440.5 1898.2L456.8 1876.2L465.2 1861.7L481.8 1862.7L490.2 1883L499.3 1902.6L524.3 1916.8L532.8 1938.7L557.4 1947.2L574.3 1947.8L582.8 1954.6L599.3 1958L624.3 1982.6L641.2 1987.7L649.3 1996.1L657.8 1991.8L674.3 1979.3L682.8 1976.9L699.7 1967.4L716.2 1959.7L724.7 1951.2L741.9 1947.2L749.3 1943.1L757.8 1939.7L774.7 1928.6L782.8 1924.2L791.2 1929.6L799.7 1930.9L816.6 1926.9L841.6 1919.5L849.7 1920.1L858.1 1928.6L875 1937.7L891.9 1950.5L917.2 1969.1L933.8 1967.4L942.2 1969.5L950.3 1968.1L958.7 1971.5L967.2 1960.7L984.1 1961.7L992.5 1969.8L1009.1 1964.7L1034.4 1974.2L1059.1 1972.2L1067.5 1960L1084.1 1966.8L1092.5 1979.9L1100.9 1979.3L1126.6 1983.6L1135.1 1996.8L1159.7 1996.5L1176.6 1994.5L1184.7 2005.3L1201.3 2003.9L1209.7 2004.9L1226.3 2001.2L1234.7 2000.2L1243.2 1992.8L1251.3 1982.6L1260.1 1966.4L1276.6 1965.1L1284.7 1969.1L1293.5 1979.9L1302 1986L1318.9 1987.7L1327.3 1987.7L1351.6 2038.4L1360.4 2089.1L1377 2143.1L1393.9 2171.8L1402.6 2183.6L1418.9 2200.5L1427.3 2195.5L1435.7 2182L1444.5 2151.6L1452 2132L1477.3 2126.2L1493.9 2138L1519.5 2089.1L1527.3 2035L1544.5 1960.7L1552.3 1937L1560.7 1923.5L1568.9 1909.3L1585.7 1910.3L1594.2 1926.2L1619.6 1937.7L1636.5 1935.3L1661.5 1923.5L1669.9 1911.7L1678.4 1916.8L1686.5 1926.2L1703.4 1956.3L1728.4 1958L1745.6 1946.5L1753.7 1949.2L1761.8 1949.5L1769.9 1943.1L1778.4 1953.2L1786.8 1987L1803.7 2017.4L1820.3 2010.3L1828.7 1992.8L1837.5 1965.7L1845.6 1930.3L1853.7 1920.1L1861.8 1918.4L1870.3 1927.9L1878.7 1941.1L1887.2 1952.2L1895.6 1959.7L1904.1 1943.1L1912.5 1935.7L1929.1 1951.2L1937.5 1957.3L1945.9 1970.8L1954.1 1986L1962.5 2004.6L1970.3 2005.6L1979.1 1998.9L1987.5 1994.8L1995.9 1995.1L2004.4 2002.9L2012.5 2002.2L2020.9 2011.4L2029.4 2020.5L2038.2 2025.9L2046.3 2026.2L2054.4 2023.5L2062.8 2024.2L2070.9 2015.7L2079.4 2016.8L2087.8 2021.5L2096.3 2016.4L2105.1 2004.6L2113.2 1986.7L2121.6 1972.5L2130.1 1963L2138.5 1959L2147 1962.4L2154.4 1976.9L2162.8 1992.8L2171.3 2006.6L2180.1 2009L2188.2 2006.6L2197 2011.4L2205.4 2015.4L2213.5 2027.2L2222 2024.9L2230.4 2018.1L2238.9 2010.3L2247.3 2000.5L2255.1 1980.9" stroke="#008000" stroke-width="8.3" fill="none" stroke-linejoin="round" stroke-linecap="round"/>
<rect x="171" y="1630" width="2186" height="1051.8" fill="none" stroke="#cccccc" stroke-width="4.2"/>
<path d="M202 1674.4h66" stroke="#008000" stroke-width="8.3" stroke-linecap="round"/>
<text x="295.2" y="1686.4" font-size="33.8">12期移动平均</text>
<text x="633.2" y="2729.3" text-anchor="middle" font-size="44">2010</text>
<text x="1135.3" y="2729.3" text-anchor="middle" font-size="44">2015</text>
<text x="1637.3" y="2729.3" text-anchor="middle" font-size="44">2020</text>
<text x="2139.6" y="2729.3" text-anchor="middle" font-size="44">2025</text>
<text x="156" y="1656.8" text-anchor="end" font-size="44">30</text>
<text x="156" y="1774.9" text-anchor="end" font-size="44">20</text>
<text x="156" y="1893" text-anchor="end" font-size="44">10</text>
<text x="156" y="2011.1" text-anchor="end" font-size="44">0</text>
<text x="156" y="2129.2" text-anchor="end" font-size="44">-10</text>
<text x="156" y="2247.3" text-anchor="end" font-size="44">-20</text>
<text x="156" y="2365.4" text-anchor="end" font-size="44">-30</text>
<text x="156" y="2483.5" text-anchor="end" font-size="44">-40</text>
<text x="156" y="2601.6" text-anchor="end" font-size="44">-50</text>
<text x="1264" y="1606" text-anchor="middle" font-size="50" font-weight="bold" stroke="#262626" stroke-width="1.4" stroke-linejoin="round">近6月涨跌幅</text>
<text x="1264" y="2791.8" text-anchor="middle">日期</text>
<text transform="translate(64.3 2155.9) rotate(-90)" text-anchor="middle">涨跌幅（%）</text>
</g>
<g>
<path d="M2975.7 1630V2681.8M3488.4 1630V2681.8M4001.1 1630V2681.8M4514 1630V2681.8" stroke="#cccccc" stroke-opacity="0.3" stroke-width="3.3" fill="none"/>
<path d="M2549 1694.1H4735M2549 1888.8H4735M2549 2083.5H4735M2549 2278.2H4735M2549 2472.9H4735M2549 2667.6H4735" stroke="#cccccc" stroke-opacity="0.3" stroke-width="3.3" fill="none"/>
<path d="M2647.5 2083.5h5.6v-3.9h-5.6zM2656 2083.5h5.6v-22.5h-5.6zM2707.1 2083.5h5.6v-110.3h-5.6zM2715.5 2083.5h5.6v-157.3h-5.6zM2724.2 2083.5h5.6v-218.4h-5.6zM2732.9 2083.5h5.6v-199.5h-5.6zM2741.3 2083.5h5.6v-158.3h-5.6zM2750 2083.5h5.6v-201.5h-5.6zM2758.4 2083.5h5.6v-209.3h-5.6zM2775.9 2083.5h5.6v-404.9h-5.6zM2792.7 2083.5h5.6v-256.6h-5.6zM2801.1 2083.5h5.6v-237.4h-5.6zM2818.2 2083.5h5.6v-117.4h-5.6zM2827 2083.5h5.6v-49.5h-5.6zM2835.7 2083.5h5.6v-71.5h-5.6zM2912.3 2083.5h5.6v-32.3h-5.6zM2938.1 2083.5h5.6v-14.4h-5.6zM2963.7 2083.5h5.6v-78.6h-5.6zM2981.1 2083.5h5.6v-36.7h-5.6zM2989 2083.5h5.6v-73.5h-5.6zM2997.7 2083.5h5.6v-42.4h-5.6zM3040.6 2083.5h5.6v-49.5h-5.6zM3057.7 2083.5h5.6v-205.3h-5.6zM3066.2 2083.5h5.6v-108.3h-5.6zM3083.6 2083.5h5.6v-155.3h-5.6zM3091.4 2083.5h5.6v-98.5h-5.6zM3100.1 2083.5h5.6v-92.4h-5.6zM3117.3 2083.5h5.6v-187.4h-5.6zM3125.7 2083.5h5.6v-235.3h-5.6zM3134.4 2083.5h5.6v-133.6h-5.6zM3143.1 2083.5h5.6v-142.4h-5.6zM3160.2 2083.5h5.6v-62.4h-5.6zM3168.6 2083.5h5.6v-58.3h-5.6zM3186.1 2083.5h5.6v-44.4h-5.6zM3194.2 2083.5h5.6v-76.5h-5.6zM3202.9 2083.5h5.6v-97.5h-5.6zM3220 2083.5h5.6v-58.3h-5.6zM3237.2 2083.5h5.6v-18.4h-5.6zM3280.1 2083.5h5.6v-74.5h-5.6zM3288.8 2083.5h5.6v-37.4h-5.6zM3296.7 2083.5h5.6v-11.3h-5.6zM3330.9 2083.5h5.6v-66.4h-5.6zM3339.6 2083.5h5.6v-76.5h-5.6zM3356.8 2083.5h5.6v-95.5h-5.6zM3365.5 2083.5h5.6v-134.3h-5.6zM3407.9 2083.5h5.6v-36.7h-5.6zM3433.4 2083.5h5.6v-33.3h-5.6zM3476.4 2083.5h5.6v-5.3h-5.6zM3485.1 2083.5h5.6v-31.6h-5.6zM3553.3 2083.5h5.6v-26.5h-5.6zM3578.9 2083.5h5.6v-16.4h-5.6zM3596.3 2083.5h5.6v-109.3h-5.6zM3604.4 2083.5h5.6v-63.4h-5.6zM3613.1 2083.5h5.6v-159.3h-5.6zM3630.2 2083.5h5.6v-13.4h-5.6zM3673.2 2083.5h5.6v-67.4h-5.6zM3681.6 2083.5h5.6v-7.3h-5.6zM3809.4 2083.5h5.6v-62.4h-5.6zM3835.2 2083.5h5.6v-68.4h-5.6zM3852.3 2083.5h5.6v-32.3h-5.6zM3878.2 2083.5h5.6v-64.4h-5.6zM3886.6 2083.5h5.6v-37.4h-5.6zM3904 2083.5h5.6v-56.3h-5.6zM3911.8 2083.5h5.6v-38.4h-5.6zM3920.5 2083.5h5.6v-140.4h-5.6zM3929 2083.5h5.6v-113.4h-5.6zM3946.1 2083.5h5.6v-165.4h-5.6zM3954.8 2083.5h5.6v-129.2h-5.6zM3980.6 2083.5h5.6v-161.3h-5.6zM3997.8 2083.5h5.6v-192.1h-5.6zM4023.3 2083.5h5.6v-70.5h-5.6zM4031.7 2083.5h5.6v-54.6h-5.6zM4048.9 2083.5h5.6v-55.6h-5.6zM4066.3 2083.5h5.6v-87.4h-5.6zM4091.8 2083.5h5.6v-35.3h-5.6zM4109.2 2083.5h5.6v-28.2h-5.6zM4142.9 2083.5h5.6v-17.4h-5.6zM4185.9 2083.5h5.6v-90.4h-5.6zM4194.3 2083.5h5.6v-75.5h-5.6zM4228.3 2083.5h5.6v-85.3h-5.6zM4236.7 2083.5h5.6v-70.5h-5.6zM4245.4 2083.5h5.6v-27.6h-5.6zM4253.8 2083.5h5.6v-52.6h-5.6zM4262.5 2083.5h5.6v-90.4h-5.6zM4271.2 2083.5h5.6v-148.5h-5.6zM4279.7 2083.5h5.6v-109.3h-5.6zM4322.1 2083.5h5.6v-13.4h-5.6zM4347.9 2083.5h5.6v-40.4h-5.6zM4356.3 2083.5h5.6v-40.4h-5.6zM4467.8 2083.5h5.6v-23.5h-5.6zM4476.5 2083.5h5.6v-88.4h-5.6zM4484.9 2083.5h5.6v-133.6h-5.6zM4493.6 2083.5h5.6v-111.3h-5.6zM4502 2083.5h5.6v-21.5h-5.6zM4604.5 2083.5h5.6v-59.3h-5.6zM4613.2 2083.5h5.6v-68.4h-5.6zM4621.9 2083.5h5.6v-15.4h-5.6zM4629.8 2083.5h5.6v-68.4h-5.6z" fill="#ff0000" fill-opacity="0.6"/>
<path d="M2673.4 2083.5h5.6v65h-5.6zM2681.2 2083.5h5.6v16h-5.6zM2861.2 2083.5h5.6v34.3h-5.6zM2869.9 2083.5h5.6v21.1h-5.6zM2895.2 2083.5h5.6v39h-5.6zM2920.7 2083.5h5.6v15h-5.6zM3014.8 2083.5h5.6v38h-5.6zM3023.2 2083.5h5.6v2.2h-5.6zM3263 2083.5h5.6v34.3h-5.6zM3305.4 2083.5h5.6v31.2h-5.6zM3313.8 2083.5h5.6v4.2h-5.6zM3382.6 2083.5h5.6v6.2h-5.6zM3416.3 2083.5h5.6v14.3h-5.6zM3442.1 2083.5h5.6v20.1h-5.6zM3450.8 2083.5h5.6v14.3h-5.6zM3510.3 2083.5h5.6v6.2h-5.6zM3527.5 2083.5h5.6v6.2h-5.6zM3535.9 2083.5h5.6v17h-5.6zM3561.7 2083.5h5.6v11.3h-5.6zM3587.6 2083.5h5.6v27.2h-5.6zM3638.7 2083.5h5.6v35.3h-5.6zM3647.4 2083.5h5.6v42h-5.6zM3656.1 2083.5h5.6v7.2h-5.6zM3706.9 2083.5h5.6v521.1h-5.6zM3715.6 2083.5h5.6v551.2h-5.6zM3732.7 2083.5h5.6v522.1h-5.6zM3749.8 2083.5h5.6v513.1h-5.6zM3758.5 2083.5h5.6v522.1h-5.6zM3775.7 2083.5h5.6v505.2h-5.6zM3784.1 2083.5h5.6v504.1h-5.6zM3792.8 2083.5h5.6v482.3h-5.6zM3801.5 2083.5h5.6v38h-5.6zM4040.4 2083.5h5.6v6.2h-5.6zM4117.1 2083.5h5.6v24.1h-5.6zM4134.2 2083.5h5.6v13h-5.6zM4151.3 2083.5h5.6v58.9h-5.6zM4168.8 2083.5h5.6v86h-5.6zM4203 2083.5h5.6v37h-5.6zM4211.7 2083.5h5.6v13h-5.6zM4219.6 2083.5h5.6v20.1h-5.6zM4288.4 2083.5h5.6v13h-5.6zM4296.8 2083.5h5.6v37h-5.6zM4305.5 2083.5h5.6v1.5h-5.6zM4314.2 2083.5h5.6v30.9h-5.6zM4330.8 2083.5h5.6v55.2h-5.6zM4339.2 2083.5h5.6v26.2h-5.6zM4365 2083.5h5.6v37h-5.6zM4373.7 2083.5h5.6v66h-5.6zM4382.1 2083.5h5.6v46.1h-5.6zM4390.8 2083.5h5.6v111h-5.6zM4399.3 2083.5h5.6v52.9h-5.6zM4408 2083.5h5.6v12.3h-5.6zM4416.7 2083.5h5.6v37h-5.6zM4424.8 2083.5h5.6v42h-5.6zM4433.5 2083.5h5.6v51.2h-5.6zM4441.9 2083.5h5.6v32.6h-5.6zM4450.6 2083.5h5.6v61h-5.6zM4459.1 2083.5h5.6v64h-5.6zM4510.7 2083.5h5.6v28.2h-5.6zM4519.4 2083.5h5.6v13h-5.6zM4527.3 2083.5h5.6v68.1h-5.6zM4536 2083.5h5.6v29.9h-5.6zM4544.4 2083.5h5.6v29.9h-5.6zM4553.1 2083.5h5.6v6.2h-5.6zM4570.3 2083.5h5.6v64h-5.6zM4579 2083.5h5.6v113h-5.6zM4587.4 2083.5h5.6v125.1h-5.6zM4596.1 2083.5h5.6v6.2h-5.6z" fill="#0000ff" fill-opacity="0.6"/>
<path d="M2549 2083.5H4735" stroke="#000" stroke-width="2.1"/>
<path d="M2779 1949.5L2795.9 1929.3L2804 1911.7L2821.2 1896.5L2830 1890.7L2838.8 1893.8L2863.8 1909.3L2872.9 1929.3L2897.9 1948.9L2915.5 1959L2923.9 1976.9L2940.8 1992.8L2966.8 2020.8L2983.7 2038.4L2991.8 2052.6L3000.9 2059.3L3017.8 2067.1L3025.9 2072.8L3043.2 2066.4L3060.7 2048.5L3068.9 2034.3L3086.4 2024.9L3094.5 2014.7L3103 2008L3119.9 1999.5L3129 1982.6L3137.1 1977.6L3145.9 1969.1L3163.1 1960.7L3171.2 1956.3L3188.8 1956.3L3196.9 1966.8L3206 1968.1L3222.9 1975.9L3239.8 1982.6L3265.8 1993.8L3282.7 2002.9L3291.8 2018.1L3299.3 2028.2L3308.4 2043.4L3316.8 2049.2L3333.8 2048.9L3342.6 2045.8L3359.8 2044.1L3368.2 2040.7L3385.5 2046.1L3410.8 2044.1L3418.9 2042.4L3436.5 2045.8L3444.9 2051.2L3453.7 2053.9L3479.4 2050.2L3488.2 2046.5L3512.8 2052.9L3530.4 2060.3L3538.9 2069.8L3555.7 2078.9L3564.5 2079.3L3581.8 2081.3L3590.2 2082.3L3599 2076.6L3607.4 2069.8L3615.9 2054.6L3632.8 2053.9L3641.2 2059.3L3649.7 2062.7L3658.8 2062.7L3676 2055.3L3684.5 2056.3L3709.5 2099.8L3718.2 2144.8L3735.5 2188L3752.4 2239.9L3761.4 2288.3L3778.4 2343.7L3787 2385.2L3795.7 2424.3L3804.3 2424.3L3812.6 2418.1L3838.6 2418.1L3855.5 2416.4L3881.1 2367.2L3889.8 2317.8L3907.1 2269.3L3915.4 2215.7L3924 2163.8L3932.3 2117.1L3949.6 2060L3957.4 2011.4L3974.7 2001.2L3983.1 1996.1L4000.4 1983.6L4026.1 1983.3L4034.5 1980.9L4043 1986.4L4051.4 1985.3L4069 1983.3L4094.3 1983.3L4111.9 1992.8L4120.3 2004.6L4128.8 2018.1L4136.9 2029.9L4145.7 2041.8L4154.1 2062L4171.7 2075.5L4188.6 2072.8L4197 2066.1L4205.8 2073.9L4214.3 2082.3L4222.7 2087.4L4231.1 2082.3L4239.3 2073.9L4248 2071.5L4256.5 2066.4L4264.9 2060.3L4274.1 2043.4L4282.5 2026.6L4290.9 2035L4299.4 2044.5L4308.2 2041.8L4317 2042.8L4324.7 2040.4L4333.5 2051.9L4342 2060.3L4350.4 2059.7L4358.9 2060L4368 2070.5L4376.4 2087.4L4385.2 2100.9L4393.6 2108.3L4402.1 2110.3L4410.2 2111L4419.3 2112L4427.4 2116.8L4436.2 2116.8L4444.7 2117.8L4453.4 2126.9L4462.2 2134.7L4470.7 2129.6L4479.1 2117.1L4487.6 2100.9L4496.4 2084L4504.8 2078.2L4513.6 2078.9L4522 2077.2L4530.1 2078.9L4538.9 2077.6L4547 2077.2L4556.1 2072.8L4564.6 2067.1L4573 2073.9L4581.5 2092.4L4590.3 2112.7L4599.1 2122.2L4607.2 2118.8L4615.9 2111L4624.4 2108.6L4632.5 2097.5" stroke="#008000" stroke-width="8.3" fill="none" stroke-linejoin="round" stroke-linecap="round"/>
<rect x="2549" y="1630" width="2186" height="1051.8" fill="none" stroke="#cccccc" stroke-width="4.2"/>
<path d="M2580 1674.4h66" stroke="#008000" stroke-width="8.3" stroke-linecap="round"/>
<text x="2673.2" y="1686.4" font-size="33.8">12期移动平均</text>
<text x="2975.7" y="2729.3" text-anchor="middle" font-size="44">2010</text>
<text x="3488.4" y="2729.3" text-anchor="middle" font-size="44">2015</text>
<text x="4001.1" y="2729.3" text-anchor="middle" font-size="44">2020</text>
<text x="4514" y="2729.3" text-anchor="middle" font-size="44">2025</text>
<text x="2534" y="1709.6" text-anchor="end" font-size="44">40</text>
<text x="2534" y="1904.3" text-anchor="end" font-size="44">20</text>
<text x="2534" y="2099" text-anchor="end" font-size="44">0</text>
<text x="2534" y="2293.7" text-anchor="end" font-size="44">-20</text>
<text x="2534" y="2488.4" text-anchor="end" font-size="44">-40</text>
<text x="2534" y="2683.1" text-anchor="end" font-size="44">-60</text>
<text x="3642" y="1606" text-anchor="middle" font-size="50" font-weight="bold" stroke="#262626" stroke-width="1.4" stroke-linejoin="round">近1年涨跌幅</text>
<text x="3642" y="2791.8" text-anchor="middle">日期</text>
<text transform="translate(2442.3 2155.9) rotate(-90)" text-anchor="middle">涨跌幅（%）</text>
</g>
<g>
<path d="M516.4 2921.6V3973.3M1054.4 2921.6V3973.3M1592.5 2921.6V3973.3M2130.8 2921.6V3973.3" stroke="#cccccc" stroke-opacity="0.3" stroke-width="3.3" fill="none"/>
<path d="M171 3102.2H2357M171 3322H2357M171 3541.8H2357M171 3761.6H2357" stroke="#cccccc" stroke-opacity="0.3" stroke-width="3.3" fill="none"/>
<path d="M270.1 3322h5.9v-235.9h-5.9zM279.2 3322h5.9v-231.8h-5.9zM288.1 3322h5.9v-265.9h-5.9zM306.4 3322h5.9v-352.4h-5.9zM324 3322h5.9v-239.9h-5.9zM332.9 3322h5.9v-220h-5.9zM350.8 3322h5.9v-329.8h-5.9zM360 3322h5.9v-313.9h-5.9zM369.1 3322h5.9v-321h-5.9zM395.9 3322h5.9v-188.9h-5.9zM405.1 3322h5.9v-137.9h-5.9zM431.6 3322h5.9v-231.8h-5.9zM449.6 3322h5.9v-177.7h-5.9zM458.4 3322h5.9v-111.9h-5.9zM476.7 3322h5.9v-97h-5.9zM503.5 3322h5.9v-45h-5.9zM584.2 3322h5.9v-72h-5.9zM602.2 3322h5.9v-207.8h-5.9zM611 3322h5.9v-220.6h-5.9zM629.3 3322h5.9v-222h-5.9zM637.5 3322h5.9v-200.7h-5.9zM646.7 3322h5.9v-155.8h-5.9zM664.6 3322h5.9v-158.8h-5.9zM673.5 3322h5.9v-261.9h-5.9zM682.6 3322h5.9v-229.8h-5.9zM691.8 3322h5.9v-224h-5.9zM709.7 3322h5.9v-316.9h-5.9zM718.6 3322h5.9v-196h-5.9zM736.8 3322h5.9v-233.8h-5.9zM745.4 3322h5.9v-204.8h-5.9zM754.5 3322h5.9v-224.7h-5.9zM772.5 3322h5.9v-288.9h-5.9zM790.5 3322h5.9v-172.7h-5.9zM817.6 3322h5.9v-28.8h-5.9zM835.5 3322h5.9v-189.9h-5.9zM844.7 3322h5.9v-95h-5.9zM852.9 3322h5.9v-99h-5.9zM862.1 3322h5.9v-70h-5.9zM870.9 3322h5.9v-155.8h-5.9zM888.9 3322h5.9v-32.8h-5.9zM898 3322h5.9v-107.8h-5.9zM916 3322h5.9v-75h-5.9zM925.1 3322h5.9v-106.8h-5.9zM943.1 3322h5.9v-75h-5.9zM969.6 3322h5.9v-6.8h-5.9zM996.4 3322h5.9v-117.9h-5.9zM1005.6 3322h5.9v-60.9h-5.9zM1014.7 3322h5.9v-34.8h-5.9zM1041.5 3322h5.9v-82.8h-5.9zM1050.6 3322h5.9v-26.1h-5.9zM1077.2 3322h5.9v-35.9h-5.9zM1095.1 3322h5.9v-16.9h-5.9zM1104 3322h5.9v-19h-5.9zM1122.2 3322h5.9v-11.9h-5.9zM1149.1 3322h5.9v-24h-5.9zM1158.2 3322h5.9v-2.1h-5.9zM1167.3 3322h5.9v-75.7h-5.9zM1175.9 3322h5.9v-98h-5.9zM1185 3322h5.9v-170h-5.9zM1203 3322h5.9v-6.1h-5.9zM1230.1 3322h5.9v-20h-5.9zM1248.1 3322h5.9v-42.9h-5.9zM1256.9 3322h5.9v-29.1h-5.9zM1490.3 3322h5.9v-16.9h-5.9zM1498.5 3322h5.9v-114.9h-5.9zM1507.6 3322h5.9v-194h-5.9zM1516.5 3322h5.9v-182.8h-5.9zM1534.5 3322h5.9v-212.9h-5.9zM1543.6 3322h5.9v-186.9h-5.9zM1570.7 3322h5.9v-265.9h-5.9zM1588.7 3322h5.9v-273h-5.9zM1615.5 3322h5.9v-249.7h-5.9zM1624.3 3322h5.9v-196h-5.9zM1633.5 3322h5.9v-135.5h-5.9zM1642.3 3322h5.9v-259.8h-5.9zM1660.6 3322h5.9v-197h-5.9zM1687.4 3322h5.9v-220h-5.9zM1705.6 3322h5.9v-256.8h-5.9zM1713.9 3322h5.9v-172.7h-5.9zM1723 3322h5.9v-77.7h-5.9zM1731.9 3322h5.9v-44h-5.9zM1741 3322h5.9v-10.9h-5.9zM1786.1 3322h5.9v-88.9h-5.9zM1794.9 3322h5.9v-128.1h-5.9zM1804.1 3322h5.9v-9.8h-5.9zM1813.2 3322h5.9v-14.9h-5.9zM1830.6 3322h5.9v-95h-5.9zM1839.4 3322h5.9v-61.9h-5.9zM1848.5 3322h5.9v-49.7h-5.9zM1866.5 3322h5.9v-22h-5.9zM1875.7 3322h5.9v-53.8h-5.9zM1884.5 3322h5.9v-20.6h-5.9zM1893.6 3322h5.9v-85.9h-5.9zM1902.5 3322h5.9v-38.9h-5.9zM1938.1 3322h5.9v-26.7h-5.9zM1947 3322h5.9v-47h-5.9zM1956.1 3322h5.9v-76.7h-5.9zM1964.9 3322h5.9v-106.8h-5.9zM1974.1 3322h5.9v-55.1h-5.9zM1983.2 3322h5.9v-80.8h-5.9zM1992 3322h5.9v-64.9h-5.9zM2091 3322h5.9v-17.9h-5.9zM2099.9 3322h5.9v-89.9h-5.9zM2216.6 3322h5.9v-116.9h-5.9zM2225.4 3322h5.9v-91.9h-5.9zM2234.5 3322h5.9v-41.9h-5.9zM2243.7 3322h5.9v-1.7h-5.9z" fill="#ff0000" fill-opacity="0.6"/>
<path d="M521.7 3322h5.9v92.5h-5.9zM530 3322h5.9v18.5h-5.9zM557.1 3322h5.9v9.8h-5.9zM565.9 3322h5.9v20.6h-5.9zM978.4 3322h5.9v22.6h-5.9zM1131.1 3322h5.9v36.8h-5.9zM1211.8 3322h5.9v59.4h-5.9zM1220.9 3322h5.9v30.7h-5.9zM1283.4 3322h5.9v556.6h-5.9zM1292.5 3322h5.9v545.6h-5.9zM1310.5 3322h5.9v584.2h-5.9zM1328.5 3322h5.9v603.4h-5.9zM1337.6 3322h5.9v594.5h-5.9zM1355.6 3322h5.9v534.5h-5.9zM1364.4 3322h5.9v566.5h-5.9zM1373.6 3322h5.9v545.6h-5.9zM1382.7 3322h5.9v573.2h-5.9zM1391 3322h5.9v557.7h-5.9zM1418.1 3322h5.9v555.5h-5.9zM1436 3322h5.9v560.7h-5.9zM1463.1 3322h5.9v536.7h-5.9zM1472 3322h5.9v550.7h-5.9zM1749.8 3322h5.9v9.8h-5.9zM1768.1 3322h5.9v8.7h-5.9zM1821.4 3322h5.9v50.6h-5.9zM1857.4 3322h5.9v11.8h-5.9zM1911.6 3322h5.9v44.6h-5.9zM1920.7 3322h5.9v50.6h-5.9zM1929 3322h5.9v8.7h-5.9zM2001.2 3322h5.9v139.5h-5.9zM2010 3322h5.9v101.6h-5.9zM2019.2 3322h5.9v16.5h-5.9zM2028.3 3322h5.9v76.6h-5.9zM2036.8 3322h5.9v33.7h-5.9zM2046 3322h5.9v118.5h-5.9zM2054.8 3322h5.9v71.6h-5.9zM2063.9 3322h5.9v23.3h-5.9zM2072.8 3322h5.9v30h-5.9zM2081.9 3322h5.9v17.5h-5.9zM2109 3322h5.9v15.5h-5.9zM2117.9 3322h5.9v38.5h-5.9zM2127 3322h5.9v45.6h-5.9zM2136.1 3322h5.9v57.7h-5.9zM2144.4 3322h5.9v121.6h-5.9zM2153.5 3322h5.9v91.5h-5.9zM2162.4 3322h5.9v75.6h-5.9zM2171.5 3322h5.9v76.6h-5.9zM2180.3 3322h5.9v73.6h-5.9zM2189.5 3322h5.9v46.9h-5.9zM2198.6 3322h5.9v39.5h-5.9zM2207.4 3322h5.9v12.5h-5.9zM2251.9 3322h5.9v5.7h-5.9z" fill="#0000ff" fill-opacity="0.6"/>
<path d="M171 3322H2357" stroke="#000" stroke-width="2.1"/>
<path d="M434.8 3065.9L452.7 3070.9L461.8 3080.1L479.7 3093.6L488.9 3102L506.8 3119.9L516.6 3134.1L525 3147.6L533.1 3166.2L542.2 3194.9L560.1 3223L568.9 3250L586.8 3260.1L604.7 3254.7L613.9 3255.7L631.8 3251.7L640.9 3243.9L650 3238.9L667.9 3229.7L677 3200L685.8 3179.7L694.9 3162.2L712.8 3135.8L722 3116.6L739.9 3103.7L748.6 3103.7L757.8 3103L775.7 3097.6L793.9 3099.7L820.9 3109.8L838.9 3107.1L847.6 3120.6L856.1 3132.4L864.9 3145.3L874 3158.8L891.9 3172.3L901 3182.4L918.9 3193.2L927.7 3201.7L945.9 3220.3L963.8 3229.4L981.4 3238.2L999.6 3244.6L1008.7 3247.3L1017.8 3253L1044.9 3251.7L1054 3263.2L1080 3263.2L1097.9 3270.9L1107 3275.7L1124.9 3283.4L1133.7 3292.6L1152 3290.5L1161.1 3288.5L1169.9 3292.2L1179 3288.9L1187.8 3277L1206 3283.8L1214.8 3290.5L1223.9 3296.3L1233 3296.3L1250.9 3294.6L1260.1 3293.6L1286.5 3336.8L1295.7 3384L1313.8 3433.3L1331.5 3491.5L1340.7 3547.5L1358.7 3608.6L1367.5 3649.9L1376.8 3690.4L1386 3730.9L1394.1 3788L1420.9 3835.9L1439 3886.3L1465.9 3885.6L1475.1 3885.6L1492.8 3834.8L1502 3760.4L1510.4 3705.1L1519.7 3649.9L1538.1 3583.6L1546.9 3524.7L1573.8 3454.7L1591.5 3384.7L1609.9 3338.7L1618.7 3316.6L1627 3255.7L1636.1 3193.2L1644.9 3131.8L1663.5 3115.5L1689.9 3107.1L1708.8 3102L1717.2 3102.7L1726 3113.2L1735.1 3125.7L1743.9 3145.9L1752.7 3171.3L1770.6 3192.6L1788.9 3201L1798 3201.7L1806.8 3220.3L1815.9 3237.2L1824 3260.1L1833.4 3274.3L1841.9 3282.8L1851.4 3285.1L1859.8 3289.5L1869.3 3288.9L1878.7 3283.8L1887.2 3281.4L1896.6 3281.8L1905.1 3288.9L1914.2 3293.9L1924 3299L1932.1 3295.6L1941.2 3300.7L1950 3302.4L1959.1 3300.7L1967.9 3290.2L1977 3287.2L1985.8 3285.1L1994.9 3281.8L2003.7 3299.7L2012.8 3312.2L2021.6 3309.8L2030.7 3311.5L2039.9 3313.9L2049 3325.7L2057.8 3335.8L2066.9 3345.3L2075.7 3356.4L2085.1 3362.8L2093.9 3368.2L2102.7 3366.2L2111.8 3355.4L2120.6 3349.7L2129.7 3352L2138.9 3351L2147.3 3358.8L2155.7 3356.4L2164.9 3356.8L2173.6 3361.1L2182.8 3365.5L2191.9 3368.2L2201 3373L2210.1 3380.7L2219.3 3369.9L2228 3358.8L2237.2 3351L2247 3345.9L2255.1 3336.1" stroke="#008000" stroke-width="8.3" fill="none" stroke-linejoin="round" stroke-linecap="round"/>
<rect x="171" y="2921.6" width="2186" height="1051.7" fill="none" stroke="#cccccc" stroke-width="4.2"/>
<path d="M202 2966h66" stroke="#008000" stroke-width="8.3" stroke-linecap="round"/>
<text x="295.2" y="2978" font-size="33.8">12期移动平均</text>
<text x="516.4" y="4020.8" text-anchor="middle" font-size="44">2010</text>
<text x="1054.4" y="4020.8" text-anchor="middle" font-size="44">2015</text>
<text x="1592.5" y="4020.8" text-anchor="middle" font-size="44">2020</text>
<text x="2130.8" y="4020.8" text-anchor="middle" font-size="44">2025</text>
<text x="156" y="3117.7" text-anchor="end" font-size="44">20</text>
<text x="156" y="3337.5" text-anchor="end" font-size="44">0</text>
<text x="156" y="3557.3" text-anchor="end" font-size="44">-20</text>
<text x="156" y="3777.1" text-anchor="end" font-size="44">-40</text>
<text x="1264" y="2897.6" text-anchor="middle" font-size="50" font-weight="bold" stroke="#262626" stroke-width="1.4" stroke-linejoin="round">近2年涨跌幅</text>
<text x="1264" y="4083.3" text-anchor="middle">日期</text>
<text transform="translate(64.3 3447.4) rotate(-90)" text-anchor="middle">涨跌幅（%）</text>
</g>
<g>
<path d="M2776.4 2921.6V3973.3M3350.5 2921.6V3973.3M3924.6 2921.6V3973.3M4499 2921.6V3973.3" stroke="#cccccc" stroke-opacity="0.3" stroke-width="3.3" fill="none"/>
<path d="M2549 3094.1H4735M2549 3318.5H4735M2549 3542.9H4735M2549 3767.3H4735" stroke="#cccccc" stroke-opacity="0.3" stroke-width="3.3" fill="none"/>
<path d="M2648.1 3318.5h6.3v-222.6h-6.3zM2657.9 3318.5h6.3v-260.4h-6.3zM2686.2 3318.5h6.3v-189.4h-6.3zM2705.4 3318.5h6.3v-329.3h-6.3zM2714.8 3318.5h6.3v-313.4h-6.3zM2734.3 3318.5h6.3v-347.2h-6.3zM2762.9 3318.5h6.3v-298.2h-6.3zM2782.4 3318.5h6.3v-333.4h-6.3zM2791.2 3318.5h6.3v-285.4h-6.3zM2800.9 3318.5h6.3v-295.2h-6.3zM2820.1 3318.5h6.3v-129.3h-6.3zM2829.6 3318.5h6.3v-110.4h-6.3zM2849 3318.5h6.3v-161.4h-6.3zM2868.2 3318.5h6.3v-201.3h-6.3zM2877.7 3318.5h6.3v-176.3h-6.3zM2897.2 3318.5h6.3v-69.5h-6.3zM2906 3318.5h6.3v-91.5h-6.3zM2915.7 3318.5h6.3v-106.3h-6.3zM2934.9 3318.5h6.3v-204.3h-6.3zM2944.3 3318.5h6.3v-244.2h-6.3zM2954.1 3318.5h6.3v-222.6h-6.3zM2963.8 3318.5h6.3v-248.2h-6.3zM2983 3318.5h6.3v-298.2h-6.3zM2992.4 3318.5h6.3v-306.3h-6.3zM3011.9 3318.5h6.3v-289.4h-6.3zM3021 3318.5h6.3v-308.4h-6.3zM3030.8 3318.5h6.3v-287.4h-6.3zM3049.9 3318.5h6.3v-231.7h-6.3zM3069.1 3318.5h6.3v-259.4h-6.3zM3098.1 3318.5h6.3v-271.2h-6.3zM3117.2 3318.5h6.3v-279.3h-6.3zM3127 3318.5h6.3v-291.5h-6.3zM3135.8 3318.5h6.3v-223.2h-6.3zM3145.5 3318.5h6.3v-185.4h-6.3zM3155 3318.5h6.3v-227.3h-6.3zM3174.1 3318.5h6.3v-313.4h-6.3zM3183.9 3318.5h6.3v-278.3h-6.3zM3203.1 3318.5h6.3v-245.2h-6.3zM3212.8 3318.5h6.3v-188.4h-6.3zM3232 3318.5h6.3v-184.4h-6.3zM3260.3 3318.5h6.3v-119.5h-6.3zM3269.7 3318.5h6.3v-139.4h-6.3zM3288.9 3318.5h6.3v-75.6h-6.3zM3298.6 3318.5h6.3v-83.4h-6.3zM3308.4 3318.5h6.3v-75.6h-6.3zM3337 3318.5h6.3v-94.5h-6.3zM3346.7 3318.5h6.3v-114.4h-6.3zM3394.2 3318.5h6.3v-15.5h-6.3zM3403.6 3318.5h6.3v-96.5h-6.3zM3423.1 3318.5h6.3v-67.5h-6.3zM3432.6 3318.5h6.3v-68.5h-6.3zM3451.8 3318.5h6.3v-104.3h-6.3zM3471.2 3318.5h6.3v-96.5h-6.3zM3480.4 3318.5h6.3v-140.5h-6.3zM3490.1 3318.5h6.3v-226.3h-6.3zM3509.3 3318.5h6.3v-32.4h-6.3zM3538.2 3318.5h6.3v-3.3h-6.3zM3557.4 3318.5h6.3v-4.3h-6.3zM3566.8 3318.5h6.3v-33.4h-6.3zM3949.4 3318.5h6.3v-294.5h-6.3zM3958.9 3318.5h6.3v-259.4h-6.3zM3968.6 3318.5h6.3v-227.3h-6.3zM3978.1 3318.5h6.3v-293.5h-6.3zM3997.6 3318.5h6.3v-291.5h-6.3zM4026.2 3318.5h6.3v-276.6h-6.3zM4045.7 3318.5h6.3v-342.5h-6.3zM4054.5 3318.5h6.3v-227.3h-6.3zM4064.2 3318.5h6.3v-253.3h-6.3zM4073.6 3318.5h6.3v-181h-6.3zM4083.4 3318.5h6.3v-160.4h-6.3zM4092.8 3318.5h6.3v-179.3h-6.3zM4112.3 3318.5h6.3v-82.4h-6.3zM4131.5 3318.5h6.3v-291.5h-6.3zM4140.9 3318.5h6.3v-329.3h-6.3zM4150.7 3318.5h6.3v-236.1h-6.3zM4160.4 3318.5h6.3v-242.5h-6.3zM4169.2 3318.5h6.3v-149.2h-6.3zM4179 3318.5h6.3v-185.4h-6.3zM4188.4 3318.5h6.3v-129.3h-6.3zM4198.1 3318.5h6.3v-43.5h-6.3zM4207.6 3318.5h6.3v-50.6h-6.3zM4217.3 3318.5h6.3v-121.5h-6.3zM4227.1 3318.5h6.3v-160.4h-6.3zM4236.5 3318.5h6.3v-146.5h-6.3zM4246.2 3318.5h6.3v-73.2h-6.3zM4255.7 3318.5h6.3v-81.3h-6.3zM4265.4 3318.5h6.3v-8.4h-6.3zM4293.7 3318.5h6.3v-26.3h-6.3zM4303.1 3318.5h6.3v-30.3h-6.3zM4312.9 3318.5h6.3v-99.2h-6.3zM4322.3 3318.5h6.3v-33.4h-6.3zM4418.2 3318.5h6.3v-2.3h-6.3zM4428 3318.5h6.3v-2.3h-6.3zM4437.4 3318.5h6.3v-27.3h-6.3zM4447.1 3318.5h6.3v-83.4h-6.3zM4456.9 3318.5h6.3v-191.5h-6.3zM4466.3 3318.5h6.3v-228.3h-6.3zM4600.3 3318.5h6.3v-26.3h-6.3zM4610 3318.5h6.3v-27.3h-6.3z" fill="#ff0000" fill-opacity="0.6"/>
<path d="M3461.5 3318.5h6.3v6.5h-6.3zM3518.7 3318.5h6.3v21h-6.3zM3528.5 3318.5h6.3v54.1h-6.3zM3595.1 3318.5h6.3v554.9h-6.3zM3604.9 3318.5h6.3v560.1h-6.3zM3624 3318.5h6.3v599.9h-6.3zM3643.2 3318.5h6.3v606.9h-6.3zM3653 3318.5h6.3v592.9h-6.3zM3672.1 3318.5h6.3v561.2h-6.3zM3681.6 3318.5h6.3v568.9h-6.3zM3691.3 3318.5h6.3v572.3h-6.3zM3701.1 3318.5h6.3v525.1h-6.3zM3709.9 3318.5h6.3v532.9h-6.3zM3738.8 3318.5h6.3v559h-6.3zM3758 3318.5h6.3v598.8h-6.3zM3786.9 3318.5h6.3v507.1h-6.3zM3796.3 3318.5h6.3v556.8h-6.3zM3815.8 3318.5h6.3v554.2h-6.3zM3824.6 3318.5h6.3v546.8h-6.3zM3834.4 3318.5h6.3v546.8h-6.3zM3843.8 3318.5h6.3v506h-6.3zM3863 3318.5h6.3v490.1h-6.3zM3872.7 3318.5h6.3v501.9h-6.3zM3901.7 3318.5h6.3v451.8h-6.3zM3920.8 3318.5h6.3v416.1h-6.3zM4275.2 3318.5h6.3v21h-6.3zM4284 3318.5h6.3v36.9h-6.3zM4332.1 3318.5h6.3v22h-6.3zM4341.8 3318.5h6.3v25.1h-6.3zM4351.3 3318.5h6.3v32.2h-6.3zM4361 3318.5h6.3v51.1h-6.3zM4370.4 3318.5h6.3v24.1h-6.3zM4380.2 3318.5h6.3v59.2h-6.3zM4389.9 3318.5h6.3v93h-6.3zM4399 3318.5h6.3v57.2h-6.3zM4408.8 3318.5h6.3v33.2h-6.3zM4476.1 3318.5h6.3v31.2h-6.3zM4485.5 3318.5h6.3v81.2h-6.3zM4495.2 3318.5h6.3v49.1h-6.3zM4505 3318.5h6.3v93h-6.3zM4513.8 3318.5h6.3v110.2h-6.3zM4523.5 3318.5h6.3v153.1h-6.3zM4533 3318.5h6.3v106.2h-6.3zM4542.7 3318.5h6.3v35.2h-6.3zM4552.2 3318.5h6.3v31.2h-6.3zM4561.9 3318.5h6.3v92h-6.3zM4571.6 3318.5h6.3v113.9h-6.3zM4581.1 3318.5h6.3v65.3h-6.3zM4590.8 3318.5h6.3v23.1h-6.3zM4619.7 3318.5h6.3v42h-6.3zM4628.6 3318.5h6.3v55.5h-6.3z" fill="#0000ff" fill-opacity="0.6"/>
<path d="M2549 3318.5H4735" stroke="#000" stroke-width="2.1"/>
<path d="M2832.4 3058.8L2852 3063.9L2870.9 3068.9L2880.3 3069.9L2899.6 3090.9L2909.1 3110.5L2918.9 3129.7L2937.8 3137.5L2946.9 3144.3L2956.7 3150L2966.8 3154.4L2985.7 3141.6L2995.5 3124L3014.8 3113.9L3023.9 3106.1L3033.7 3097L3053 3082.8L3071.9 3068.2L3100.9 3054.7L3119.9 3049L3130 3043.9L3139.1 3042.9L3148.6 3048L3158 3054.7L3177 3054.1L3186.8 3055.4L3206 3060.5L3215.8 3068.2L3234.7 3073.3L3263.4 3084.5L3272.9 3095.9L3292.2 3112.2L3302 3129.1L3311.4 3142.6L3339.9 3150L3349.7 3159.5L3378 3184.8L3397 3206.8L3406.8 3219.3L3425.7 3229.4L3435.8 3238.9L3455.1 3239.9L3464.9 3252.4L3474.3 3250.7L3483.4 3246.3L3492.9 3233.1L3512.2 3238.2L3522 3250L3531.4 3254.4L3541.2 3255.4L3560.1 3263.5L3569.9 3266.6L3597.9 3320.3L3607.9 3373.7L3627 3425.2L3646.6 3482.3L3656.1 3543.1L3675.3 3611.2L3685.2 3657.3L3694.4 3703.3L3704 3742L3713.2 3788L3741.9 3835.9L3761.1 3888.2L3790.2 3884.5L3799.4 3883.8L3818.9 3880.1L3828.1 3875.7L3838.1 3872L3847.3 3867.9L3866.1 3861.3L3876 3855.4L3905.1 3848.8L3924.3 3839.6L3953.3 3767.7L3962.9 3681.2L3972.5 3609.4L3981.7 3564.4L4000.1 3493.4L4029.5 3425.7L4048.7 3350.3L4057.8 3282.8L4067.3 3223.6L4076.8 3166.2L4086.6 3115.5L4096 3069.3L4115.6 3086.8L4134.9 3084.1L4144 3076.7L4153.4 3080.7L4163.6 3085.1L4172.7 3095.9L4182.2 3108.1L4192 3116.6L4201.4 3133.4L4210.9 3144.9L4220.3 3148.6L4230.1 3150.3L4239.9 3144.9L4249.7 3163.5L4258.9 3183.1L4269 3201.7L4277.8 3222L4286.9 3238.2L4296.7 3251.4L4306.5 3260.8L4315.9 3256.8L4325.7 3258.1L4335.2 3269.3L4345 3284.5L4354.5 3299.7L4363.9 3310.5L4373.7 3319.9L4383.5 3325.7L4393 3330.7L4402.8 3332.8L4412.2 3337.5L4422 3340.2L4431.5 3348L4440.9 3348.6L4450.4 3340.2L4460.2 3321.6L4470 3300.3L4479.1 3298.6L4488.9 3303.4L4498.7 3302.7L4508.5 3302.7L4517.3 3307.4L4527.1 3315.9L4536.6 3324.3L4546 3328.4L4555.8 3334.1L4565.3 3348.6L4575.1 3374L4584.9 3398.6L4594.7 3398L4604.1 3389.2L4613.6 3383.1L4623 3379.1L4632.2 3374" stroke="#008000" stroke-width="8.3" fill="none" stroke-linejoin="round" stroke-linecap="round"/>
<rect x="2549" y="2921.6" width="2186" height="1051.7" fill="none" stroke="#cccccc" stroke-width="4.2"/>
<path d="M2580 2966h66" stroke="#008000" stroke-width="8.3" stroke-linecap="round"/>
<text x="2673.2" y="2978" font-size="33.8">12期移动平均</text>
<text x="2776.4" y="4020.8" text-anchor="middle" font-size="44">2010</text>
<text x="3350.5" y="4020.8" text-anchor="middle" font-size="44">2015</text>
<text x="3924.6" y="4020.8" text-anchor="middle" font-size="44">2020</text>
<text x="4499" y="4020.8" text-anchor="middle" font-size="44">2025</text>
<text x="2534" y="3109.6" text-anchor="end" font-size="44">20</text>
<text x="2534" y="3334" text-anchor="end" font-size="44">0</text>
<text x="2534" y="3558.4" text-anchor="end" font-size="44">-20</text>
<text x="2534" y="3782.8" text-anchor="end" font-size="44">-40</text>
<text x="3642" y="2897.6" text-anchor="middle" font-size="50" font-weight="bold" stroke="#262626" stroke-width="1.4" stroke-linejoin="round">近3年涨跌幅</text>
<text x="3642" y="4083.3" text-anchor="middle">日期</text>
<text transform="translate(2442.3 3447.4) rotate(-90)" text-anchor="middle">涨跌幅（%）</text>
</g>
</svg>
</body>
</html>
